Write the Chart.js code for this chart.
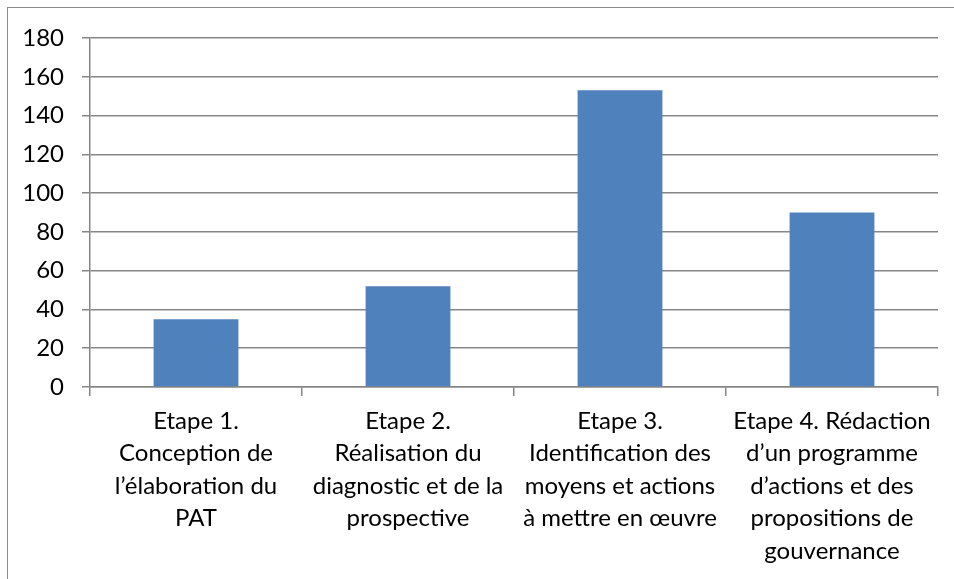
<!DOCTYPE html>
<html>
<head>
<meta charset="utf-8">
<script src="https://cdn.jsdelivr.net/npm/chart.js@4"></script>
<style>
    html, body { margin: 0; padding: 0; background: #fff; overflow: hidden; }
    #wrap { position: relative; width: 954px; height: 579px; }
    #frame { position: absolute; left: 7px; top: 7px; width: 980px; height: 600px; border: 1.5px solid #8c8c8c; box-sizing: border-box; }
    canvas { position: absolute; left: 0; top: 0; }
</style>
</head>
<body>
<div id="wrap">
    <div id="frame"></div>
    <canvas id="chart" width="954" height="579"></canvas>
</div>
<script>
// Étapes du PAT
const categories = [
    ['Etape 1.', 'Conception de', 'l\u2019élaboration du', 'PAT'],
    ['Etape 2.', 'Réalisation du', 'diagnostic et de la', 'prospective'],
    ['Etape 3.', 'Identification des', 'moyens et actions', 'à mettre en œuvre'],
    ['Etape 4. Rédaction', 'd\u2019un programme', 'd\u2019actions et des', 'propositions de', 'gouvernance']
];
const values = [35, 52, 153, 90];
const yTicks = [0, 20, 40, 60, 80, 100, 120, 140, 160, 180];

const FONT = { family: "Lato, 'Open Sans', sans-serif", size: 24 };
const GRID = '#868686';

new Chart(document.getElementById('chart'), {
    type: 'bar',
    data: {
        labels: categories,
        datasets: [{
            data: values,
            backgroundColor: '#4f81bd',
            borderWidth: 0,
            categoryPercentage: 0.8,
            barPercentage: 0.5
        }]
    },
    options: {
        responsive: false,
        animation: false,
        layout: { padding: { top: 38, right: 16, left: 0, bottom: 0 } },
        plugins: { legend: { display: false }, tooltip: { enabled: false } },
        scales: {
            x: {
                offset: true,
                grid: { display: true, drawOnChartArea: false, offset: true, color: GRID, lineWidth: 1.5, tickLength: 9 },
                border: { color: GRID, width: 1.5 },
                ticks: { color: '#000', font: { ...FONT, lineHeight: 1.354 }, padding: 9, maxRotation: 0, autoSkip: false },
                afterFit(scale) { scale.height = 192; }
            },
            y: {
                min: 0,
                max: 180,
                afterBuildTicks(scale) { scale.ticks = yTicks.map(v => ({ value: v })); },
                grid: { color: GRID, lineWidth: 1.5, tickLength: 8 },
                border: { color: GRID, width: 1.5 },
                ticks: { color: '#000', font: FONT, padding: 18 },
                afterFit(scale) { scale.width = 90; }
            }
        }
    }
});
</script>
</body>
</html>
